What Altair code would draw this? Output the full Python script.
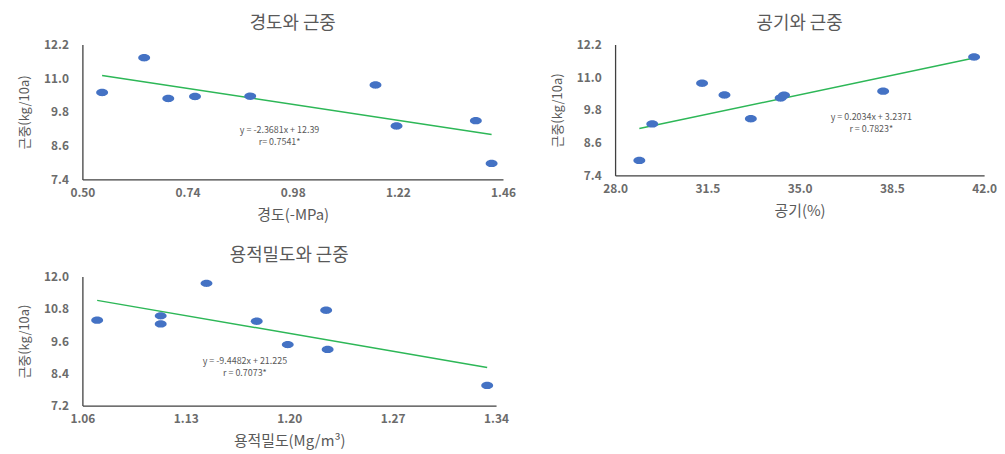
import altair as alt
import pandas as pd

# ---- data ----
hard_x = [0.545, 0.641, 0.696, 0.757, 0.883, 1.169, 1.217, 1.398, 1.434]
hard_y = [10.49, 11.73, 10.28, 10.35, 10.36, 10.76, 9.30, 9.49, 7.97]

air_x = [28.92, 29.41, 31.30, 32.15, 33.15, 34.28, 34.41, 38.17, 41.62]
air_y = [7.95, 9.29, 10.78, 10.35, 9.48, 10.24, 10.34, 10.49, 11.74]

bd_x = [1.070, 1.113, 1.113, 1.144, 1.178, 1.199, 1.225, 1.226, 1.334]
bd_y = [10.38, 10.54, 10.24, 11.75, 10.34, 9.47, 10.75, 9.29, 7.95]

# trend equations (slope, intercept) as printed
hard_fit = (-2.3681, 12.39)
air_fit = (0.2034, 3.2371)
bd_fit = (-9.4482, 21.225)

hard_ticks_x = [0.50, 0.74, 0.98, 1.22, 1.46]
air_ticks_x = [28.0, 31.5, 35.0, 38.5, 42.0]
bd_ticks_x = [1.06, 1.13, 1.20, 1.27, 1.34]
ticks_y_top = [7.4, 8.6, 9.8, 11.0, 12.2]
ticks_y_bot = [7.2, 8.4, 9.6, 10.8, 12.0]

hard_ann = ["y = -2.3681x + 12.39", "r= 0.7541*"]
air_ann = ["y = 0.2034x + 3.2371", "r = 0.7823*"]
bd_ann = ["y = -9.4482x + 21.225", "r = 0.7073*"]

FONT = "Noto Sans CJK KR"
GREY = "#595959"
LABEL_GREY = "#6b6b6b"
BLUE = "#4472C4"
GREEN = "#2DB757"
ELLIPSE = "M-1,0 A1,0.62 0 1,0 1,0 A1,0.62 0 1,0 -1,0 Z"


def panel(xs, ys, fit, xticks, yticks, xfmt, title, xtitle, ann_x, ann_ys, ann_text, w, h):
    df = pd.DataFrame({"x": xs, "y": ys})
    x0, x1 = min(xs), max(xs)
    line_df = pd.DataFrame({"x": [x0, x1], "y": [fit[0] * x0 + fit[1], fit[0] * x1 + fit[1]]})
    ann_df = pd.DataFrame({"x": [ann_x, ann_x], "y": ann_ys, "t": ann_text})

    xscale = alt.Scale(domain=[xticks[0], xticks[-1]], nice=False, zero=False)
    yscale = alt.Scale(domain=[yticks[0], yticks[-1]], nice=False, zero=False)
    xaxis = alt.Axis(values=xticks, format=xfmt, title=xtitle, grid=False, ticks=False,
                     labelPadding=8, titlePadding=9, labelFlush=False, labelOverlap=False,
                     titleFontSize=15)
    yaxis = alt.Axis(values=yticks, format=".1f", title="근중(kg/10a)", grid=False, ticks=False,
                     labelPadding=14, titlePadding=12, labelFlush=False, labelOverlap=False,
                     labelBound=False, titleFontSize=13)

    enc = dict(
        x=alt.X("x:Q", scale=xscale, axis=xaxis),
        y=alt.Y("y:Q", scale=yscale, axis=yaxis),
    )
    pts = alt.Chart(df).mark_point(filled=True, opacity=1, shape=ELLIPSE, size=144, color=BLUE).encode(**enc)
    ln = alt.Chart(line_df).mark_line(color=GREEN, strokeWidth=1.5).encode(**enc)
    txt = alt.Chart(ann_df).mark_text(fontSize=9, color=GREY, font=FONT,
                                      align="center", baseline="middle").encode(text="t:N", **enc)
    return alt.layer(ln, pts, txt).properties(
        width=w, height=h,
        title=alt.TitleParams(title, fontSize=18, color=GREY, font=FONT, fontWeight="normal", offset=6),
    )


p1 = panel(hard_x, hard_y, hard_fit, hard_ticks_x, ticks_y_top, ".2f", "경도와 근중", "경도(-MPa)",
           0.950, [9.14, 8.72], hard_ann, 424, 136)
p2 = panel(air_x, air_y, air_fit, air_ticks_x, ticks_y_top, ".1f", "공기와 근중", "공기(%)",
           37.72, [9.53, 9.09], air_ann, 372, 132)
p3 = panel(bd_x, bd_y, bd_fit, bd_ticks_x, ticks_y_bot, ".2f", "용적밀도와 근중", "용적밀도(Mg/m³)",
           1.170, [8.86, 8.42], bd_ann, 417, 130)

chart = alt.vconcat(
    alt.hconcat(p1, p2, spacing=35),
    p3,
    spacing=25,
).configure_view(stroke=None).configure_axis(
    domainColor="#404040", domainWidth=1.3, labelOverlap=False,
    labelFont=FONT, labelFontSize=12, labelColor=LABEL_GREY, labelFontWeight="bold",
    titleFont=FONT, titleFontSize=14, titleColor=GREY, titleFontWeight="normal",
).properties(background="white", padding={"left": 10, "top": 5, "right": 0, "bottom": 0})

chart.save("out.html", embed_options={"renderer": "svg", "actions": False})
